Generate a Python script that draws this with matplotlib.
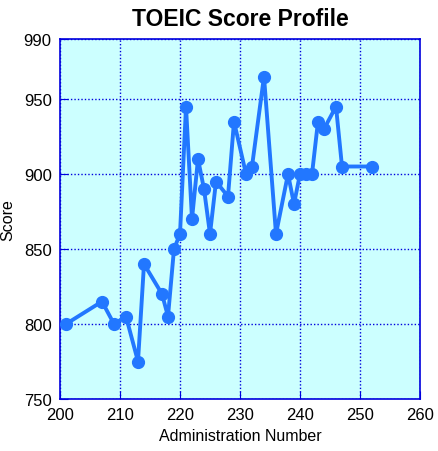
import matplotlib
matplotlib.use('Agg')
import matplotlib.pyplot as plt

# administration numbers and scores
admin = [201, 207, 209, 211, 213, 214, 217, 218, 219, 220, 221, 222, 223, 224,
         225, 226, 228, 229, 231, 232, 234, 236, 238, 239, 240, 241, 242, 243,
         244, 246, 247, 252]
score = [800, 815, 800, 805, 775, 840, 820, 805, 850, 860, 945, 870, 910, 890,
         860, 895, 885, 935, 900, 905, 965, 860, 900, 880, 900, 900, 900, 935,
         930, 945, 905, 905]
xticks = [200, 210, 220, 230, 240, 250, 260]
yticks = [750, 800, 850, 900, 950, 990]

plt.rcParams['font.family'] = ['Liberation Sans', 'DejaVu Sans']

fig = plt.figure(figsize=(4.39, 4.52), dpi=100)
ax = fig.add_axes([60 / 439, 52 / 452, 360 / 439, 360 / 452])
ax.set_facecolor('#ccffff')

ax.plot(admin, score, color='#2277ff', lw=2.8, marker='o', ms=8.5,
        zorder=3)

ax.set_xlim(200, 260)
ax.set_ylim(750, 990)
ax.set_xticks(xticks)
ax.set_yticks(yticks)
ax.grid(True, color='#0000dd', linestyle=(0, (1, 1.5)), lw=1)
for s in ax.spines.values():
    s.set_color('#0000dd')
    s.set_linewidth(1.2)
ax.tick_params(direction='in', length=6, color='#0000dd', labelsize=12)
ax.tick_params(axis='x', pad=6)
ax.tick_params(axis='y', pad=6)

ax.set_xlabel('Administration Number', fontsize=11.5, labelpad=4)
ax.set_ylabel('Score', fontsize=11.5, labelpad=6)
ax.set_title('TOEIC Score Profile', fontsize=16.5, fontweight='bold', pad=10)

fig.savefig('out.png', dpi=100)
